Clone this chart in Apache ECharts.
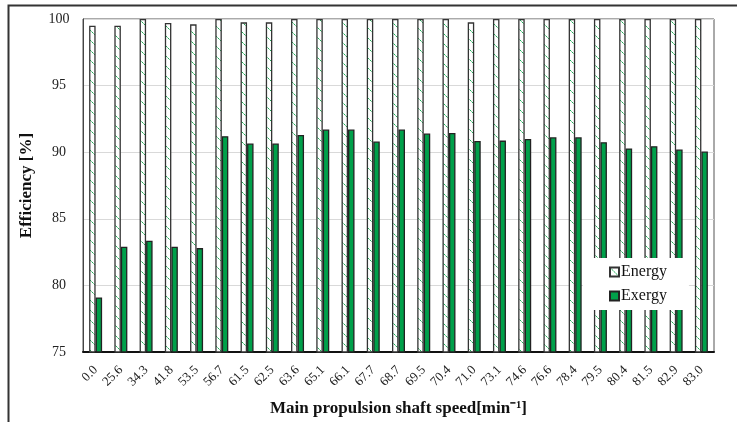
<!DOCTYPE html>
<html>
<head>
<meta charset="utf-8">
<script src="https://cdn.jsdelivr.net/npm/echarts@6/dist/echarts.min.js"></script>
<style>
html,body{margin:0;padding:0;background:#fff;}
#chart{width:737px;height:422px;}
</style>
</head>
<body>
<div id="chart"></div>
<script>
var categories = ['0.0','25.6','34.3','41.8','53.5','56.7','61.5','62.5','63.6','65.1','66.1','67.7','68.7','69.5','70.4','71.0','73.1','74.6','76.6','78.4','79.5','80.4','81.5','82.9','83.0'];
var energy = [99.5,99.5,100,99.7,99.6,100,99.75,99.75,100,100,100,100,100,100,100,99.75,100,100,100,100,100,100,100,100,100];
var exergy = [79.1,82.9,83.35,82.9,82.8,91.2,90.65,90.65,91.3,91.7,91.7,90.8,91.7,91.4,91.45,90.85,90.87,91.0,91.12,91.12,90.75,90.28,90.45,90.2,90.05];
var yTicks = [75,80,85,90,95,100];

var pc = document.createElement('canvas');
pc.width = 10; pc.height = 10;
var ctx = pc.getContext('2d');
ctx.fillStyle = '#ffffff';
ctx.fillRect(0,0,10,10);
for (var i = 0; i < 10; i++) {
  ctx.fillStyle = (i % 2 === 0) ? '#1fae57' : '#7fd3a0';
  ctx.fillRect(i, i, 1, 1);
}

var chart = echarts.init(document.getElementById('chart'));
var serif = 'Liberation Serif';
chart.setOption({
  animation: false,
  backgroundColor: '#fff',
  graphic: [{
    type: 'rect', left: 6, top: 3, z: 100, silent: true,
    shape: {x: 0, y: 0, width: 800, height: 500},
    style: {fill: 'none', stroke: '#333', lineWidth: 2}
  }],
  grid: {left: 83, right: 23, top: 19, bottom: 66, show: true, borderColor: '#555', borderWidth: 1},
  legend: {
    orient: 'vertical', left: 583, top: 258,
    backgroundColor: '#fff', padding: [6, 22, 6, 26],
    itemWidth: 9, itemHeight: 9, itemGap: 8,
    textStyle: {fontFamily: serif, fontSize: 16, color: '#111', padding: [0,0,0,-3]},
    icon: 'rect',
    data: ['Energy','Exergy']
  },
  xAxis: {
    type: 'category', data: categories,
    name: 'Main propulsion shaft speed[min\u207B\u00B9]',
    nameLocation: 'middle', nameGap: 48,
    nameTextStyle: {fontFamily: serif, fontSize: 17, fontWeight: 'bold', color: '#111'},
    axisLine: {lineStyle: {color: '#111', width: 2}},
    axisTick: {show: false},
    axisLabel: {rotate: 45, fontFamily: serif, fontSize: 13, color: '#222', margin: 16, interval: 0}
  },
  yAxis: {
    type: 'value', min: yTicks[0], max: yTicks[yTicks.length-1], interval: 5,
    name: 'Efficiency [%]', nameLocation: 'middle', nameGap: 48,
    nameTextStyle: {fontFamily: serif, fontSize: 17, fontWeight: 'bold', color: '#111'},
    axisLine: {show: true, lineStyle: {color: '#444', width: 1}},
    axisTick: {show: false},
    axisLabel: {fontFamily: serif, fontSize: 14, color: '#222', margin: 24, align: 'center'},
    splitLine: {lineStyle: {color: '#d9d9d9', width: 1}}
  },
  series: [{
    name: 'Energy', type: 'bar', data: energy, barWidth: 6.5, barGap: '0%',
    itemStyle: {color: {image: pc, repeat: 'repeat'}, borderColor: '#333', borderWidth: 1.3}
  }, {
    name: 'Exergy', type: 'bar', data: exergy, barWidth: 6.5,
    itemStyle: {color: '#00a04a', borderColor: '#222', borderWidth: 1.3}
  }]
});
</script>
</body>
</html>
